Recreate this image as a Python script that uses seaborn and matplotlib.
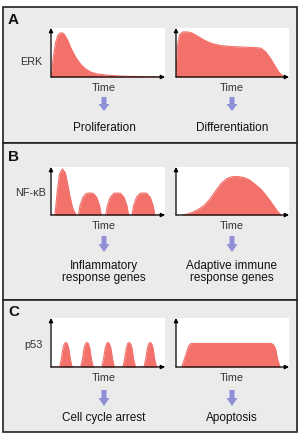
import matplotlib
matplotlib.use('Agg')
import matplotlib.pyplot as plt
import matplotlib.patches as mpatches
import seaborn as sns

sns.set_style('white')
plt.rcParams['font.family'] = ['Liberation Sans', 'DejaVu Sans']

W, H = 300, 437
RED = '#f2716a'
ARROW = '#8f8fd8'
PANEL_BG = '#ebebeb'

# --- data (time fraction, relative level) ---
erk_transient_t = [0.0, 0.02, 0.04, 0.06, 0.08, 0.10, 0.12, 0.15, 0.18, 0.22, 0.26, 0.30,
                   0.35, 0.40, 0.50, 0.60, 0.70, 0.80, 0.90, 0.97]
erk_transient_y = [0.0, 0.40, 0.70, 0.85, 0.90, 0.90, 0.86, 0.73, 0.56, 0.39, 0.26, 0.17,
                   0.10, 0.065, 0.035, 0.02, 0.012, 0.008, 0.005, 0.003]

erk_sustained_t = [0.0, 0.01, 0.03, 0.06, 0.10, 0.14, 0.20, 0.26, 0.32, 0.40, 0.50, 0.60,
                   0.70, 0.75, 0.79, 0.83, 0.87, 0.91, 0.94, 0.96]
erk_sustained_y = [0.0, 0.60, 0.86, 0.92, 0.92, 0.90, 0.82, 0.74, 0.68, 0.64, 0.62, 0.61,
                   0.60, 0.59, 0.52, 0.40, 0.25, 0.10, 0.03, 0.0]

nfkb_osc_t = [0.0, 0.035, 0.055, 0.075, 0.10, 0.125, 0.145, 0.165, 0.19, 0.22,
              0.24, 0.255, 0.28, 0.31, 0.34, 0.37, 0.40, 0.425, 0.44,
              0.48, 0.495, 0.52, 0.55, 0.58, 0.61, 0.64, 0.665, 0.68,
              0.71, 0.725, 0.75, 0.78, 0.81, 0.84, 0.87, 0.895, 0.91, 1.0]
nfkb_osc_y = [0.0, 0.0, 0.50, 0.86, 0.96, 0.88, 0.66, 0.40, 0.14, 0.0,
              0.0, 0.20, 0.37, 0.45, 0.46, 0.45, 0.37, 0.20, 0.0,
              0.0, 0.20, 0.37, 0.45, 0.46, 0.45, 0.37, 0.20, 0.0,
              0.0, 0.20, 0.37, 0.45, 0.46, 0.45, 0.37, 0.20, 0.0, 0.0]

nfkb_hump_t = [0.05, 0.10, 0.15, 0.20, 0.25, 0.30, 0.35, 0.40, 0.45, 0.50, 0.55, 0.60,
               0.65, 0.70, 0.75, 0.80, 0.85, 0.90, 0.93]
nfkb_hump_y = [0.0, 0.02, 0.06, 0.12, 0.20, 0.33, 0.50, 0.66, 0.76, 0.80, 0.80, 0.78,
               0.73, 0.64, 0.54, 0.40, 0.24, 0.07, 0.0]

p53_pulse_t = [0.0,
               0.075, 0.09, 0.105, 0.118, 0.13, 0.142, 0.155, 0.17, 0.185,
               0.26, 0.275, 0.29, 0.303, 0.315, 0.327, 0.34, 0.355, 0.37,
               0.445, 0.46, 0.475, 0.488, 0.50, 0.512, 0.525, 0.54, 0.555,
               0.63, 0.645, 0.66, 0.673, 0.685, 0.697, 0.71, 0.725, 0.74,
               0.815, 0.83, 0.845, 0.858, 0.87, 0.882, 0.895, 0.91, 0.925,
               1.0]
p53_pulse_y = [0.0,
               0.0, 0.15, 0.38, 0.48, 0.50, 0.48, 0.38, 0.15, 0.0,
               0.0, 0.15, 0.38, 0.48, 0.50, 0.48, 0.38, 0.15, 0.0,
               0.0, 0.15, 0.38, 0.48, 0.50, 0.48, 0.38, 0.15, 0.0,
               0.0, 0.15, 0.38, 0.48, 0.50, 0.48, 0.38, 0.15, 0.0,
               0.0, 0.15, 0.38, 0.48, 0.50, 0.48, 0.38, 0.15, 0.0,
               0.0]

p53_sustained_t = [0.05, 0.08, 0.11, 0.125, 0.14, 0.84, 0.86, 0.88, 0.90, 0.92]
p53_sustained_y = [0.0, 0.20, 0.42, 0.47, 0.48, 0.48, 0.46, 0.38, 0.15, 0.0]

panel_letters = ['A', 'B', 'C']
ylabels = ['ERK', 'NF-κB', 'p53']
outcomes_left = ['Proliferation', 'Inflammatory\nresponse genes', 'Cell cycle arrest']
outcomes_right = ['Differentiation', 'Adaptive immune\nresponse genes', 'Apoptosis']
curves = [((erk_transient_t, erk_transient_y), (erk_sustained_t, erk_sustained_y)),
          ((nfkb_osc_t, nfkb_osc_y), (nfkb_hump_t, nfkb_hump_y)),
          ((p53_pulse_t, p53_pulse_y), (p53_sustained_t, p53_sustained_y))]

# layout in pixels (top, bottom of panel; plot top/bottom; text rows)
panels = [
    dict(top=7, bot=143, ptop=28, pbot=77, time=88, arr=(97, 111), out=128, lab_y=20, ylab=(31, 62)),
    dict(top=143, bot=300, ptop=167, pbot=215, time=226, arr=(236, 252), out=272, lab_y=157, ylab=(31, 193)),
    dict(top=300, bot=432, ptop=318, pbot=367, time=378, arr=(390, 406), out=418, lab_y=312, ylab=(33, 345)),
]
left_x = (51, 165)
right_x = (176, 289)
left_c, right_c = 104, 232

fig = plt.figure(figsize=(W / 100, H / 100), dpi=100)

# background layer in pixel coordinates for panels, arrows and text
bg = fig.add_axes([0, 0, 1, 1], zorder=-1)
bg.set_xlim(0, W)
bg.set_ylim(H, 0)
bg.axis('off')


def down_arrow(cx, y0, y1):
    hs = y0 + (y1 - y0) * 0.5
    pts = [(cx - 2.5, y0), (cx + 2.5, y0), (cx + 2.5, hs), (cx + 5.5, hs),
           (cx, y1), (cx - 5.5, hs), (cx - 2.5, hs)]
    bg.add_patch(mpatches.Polygon(pts, closed=True, facecolor=ARROW, edgecolor='none'))


def signal_axes(x0, x1, y0, y1, t, y):
    ax = fig.add_axes([x0 / W, 1 - y1 / H, (x1 - x0) / W, (y1 - y0) / H], zorder=2)
    ax.set_facecolor('white')
    sns.lineplot(x=t, y=y, ax=ax, color=RED, linewidth=0.8)
    ax.fill_between(t, y, 0, color=RED, linewidth=0)
    ax.set_xlim(0, 1)
    ax.set_ylim(0, 1)
    ax.set_xticks([])
    ax.set_yticks([])
    ax.set_xlabel('')
    ax.set_ylabel('')
    for s in ax.spines.values():
        s.set_visible(False)
    ap = dict(arrowstyle='-|>', color='black', lw=0.9, mutation_scale=6, shrinkA=0, shrinkB=0)
    ax.annotate('', xy=(0, 1), xytext=(0, 0), xycoords='axes fraction', arrowprops=ap,
                annotation_clip=False)
    ax.annotate('', xy=(1, 0), xytext=(0, 0), xycoords='axes fraction', arrowprops=ap,
                annotation_clip=False)
    return ax


for i, p in enumerate(panels):
    bg.add_patch(mpatches.Rectangle((3, p['top']), 294, p['bot'] - p['top'],
                                    facecolor=PANEL_BG, edgecolor='#222222', linewidth=1.2))
    bg.text(8, p['lab_y'], panel_letters[i], ha='left', va='center',
            fontsize=11, fontweight='bold', color='#111111')
    bg.text(*p['ylab'], ylabels[i], ha='center', va='center', fontsize=7.8, color='#333333')

    (tl, yl), (tr, yr) = curves[i]
    signal_axes(left_x[0], left_x[1], p['ptop'], p['pbot'], tl, yl)
    signal_axes(right_x[0], right_x[1], p['ptop'], p['pbot'], tr, yr)

    for cx, txt in [(left_c, outcomes_left[i]), (right_c, outcomes_right[i])]:
        bg.text(cx, p['time'], 'Time', ha='center', va='center', fontsize=7.8, color='#333333')
        down_arrow(cx, *p['arr'])
        bg.text(cx, p['out'], txt, ha='center', va='center', fontsize=8.5,
                color='#111111', linespacing=1.0)

fig.savefig('out.png', dpi=100)
